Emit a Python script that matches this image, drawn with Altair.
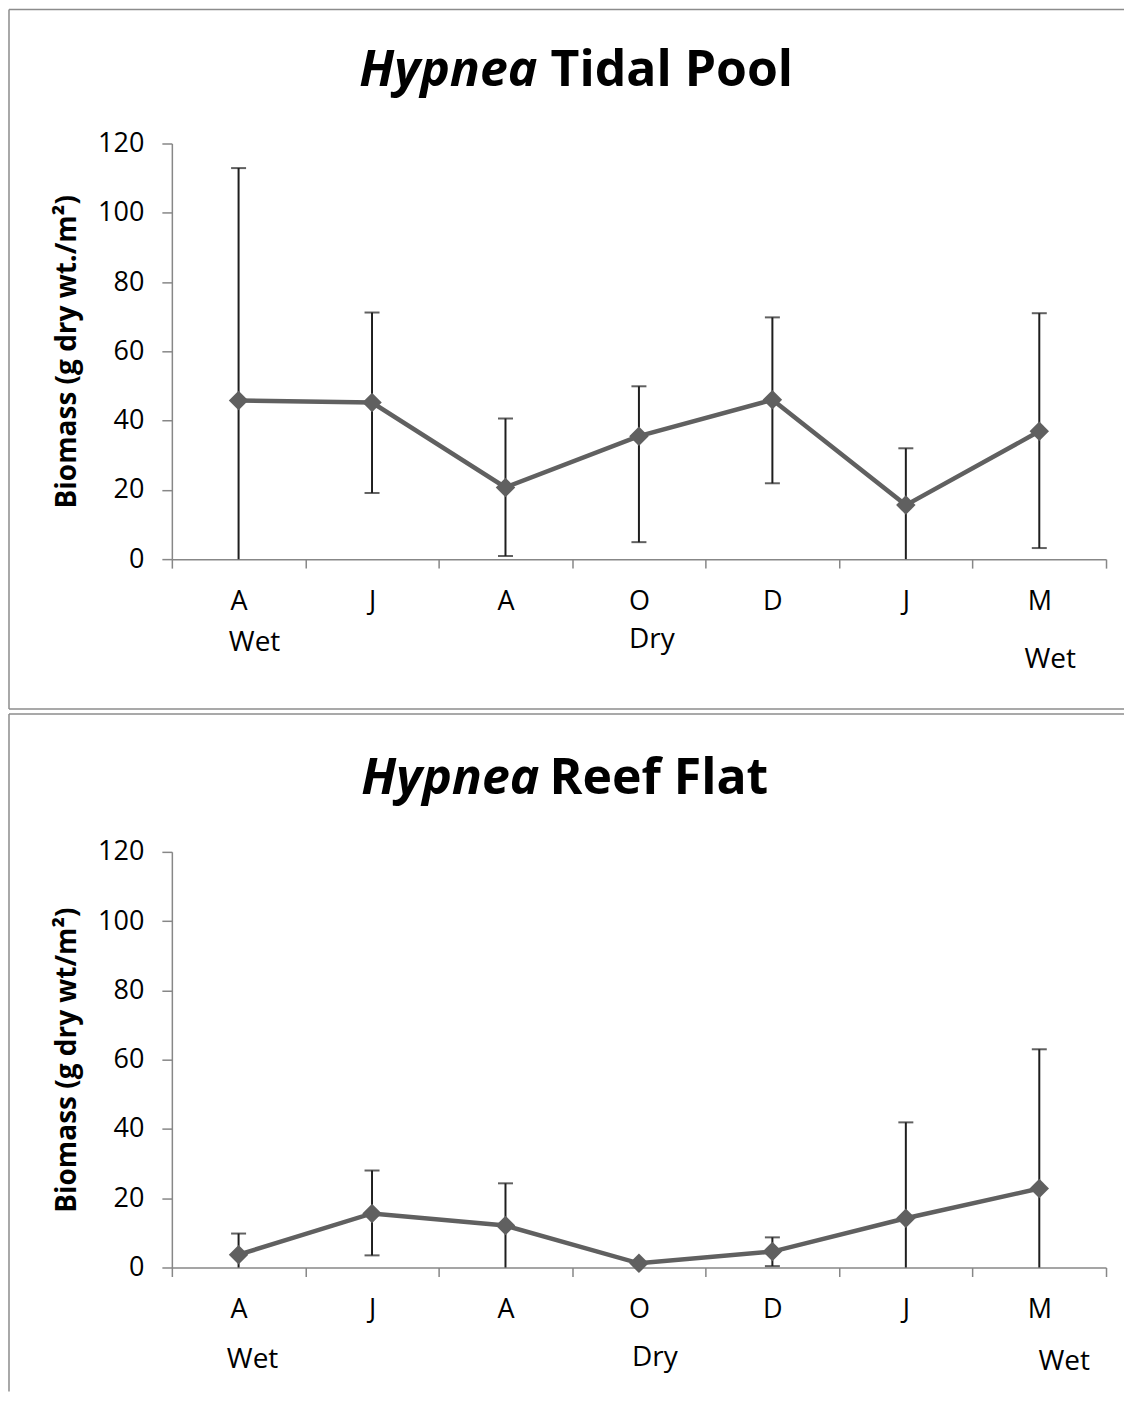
import json
import altair as alt
import pandas as pd

# ---- data ----
months = ["A", "J", "A", "O", "D", "J", "M"]

tidal_mean = [45.8, 45.2, 20.7, 35.5, 46.0, 15.6, 36.9]
tidal_upper = [112.9, 71.2, 40.6, 49.9, 69.8, 32.0, 71.0]
tidal_lower = [0.0, 19.1, 0.9, 4.9, 21.9, 0.0, 3.2]

reef_mean = [3.7, 15.6, 12.1, 1.2, 4.6, 14.2, 22.8]
reef_upper = [9.8, 28.0, 24.3, 1.2, 8.7, 41.9, 63.0]
reef_lower = [0.0, 3.5, 0.0, 1.2, 0.4, 0.0, 0.0]

genus = "Hypnea"
sites = ["Tidal Pool", "Reef Flat"]
y_titles = ["Biomass (g dry wt./m²)", "Biomass (g dry wt/m²)"]
season_labels = ["Wet", "Dry", "Wet"]
season_at = [0, 3, 6]
y_ticks = [0, 20, 40, 60, 80, 100, 120]

FONT = "Open Sans"
LINE = "#606060"
AXIS = "#878787"
W, H = 935, 416
label_expr = json.dumps(months) + "[datum.value]"


def panel(mean, upper, lower, site, ytitle, layout):
    df = pd.DataFrame({"idx": list(range(len(months))), "month": months,
                       "mean": mean, "hi": upper, "lo": lower})
    one = pd.DataFrame({"k": [0]})
    sdf = pd.DataFrame({"k": list(range(len(season_labels))),
                        "label": season_labels, "idx": season_at})

    x = alt.X("idx:O", bandPosition=0.5, title=None,
              scale=alt.Scale(type="band", paddingInner=0, paddingOuter=0),
              axis=alt.Axis(labelExpr=label_expr, tickBand="extent", tickSize=9,
                            tickColor=AXIS, tickWidth=1.5, domainColor=AXIS,
                            domainWidth=1.5, labelFontSize=27, labelColor="black",
                            labelPadding=layout["xlabpad"], labelAngle=0, grid=False,
                            labelFont=FONT))
    yscale = alt.Scale(domain=[0, 120], nice=False)
    y = alt.Y("mean:Q", scale=yscale, title=ytitle,
              axis=alt.Axis(values=y_ticks, tickSize=10, tickColor=AXIS, tickWidth=1.5,
                            domainColor=AXIS, domainWidth=1.5, labelFontSize=27,
                            labelColor="black", labelPadding=18, grid=False,
                            labelFont=FONT, titleFont=FONT, titleFontSize=28,
                            titleFontWeight="bold", titleColor="black",
                            titleX=-104, titleY=H / 2, titleAngle=270,
                            titleAlign="center", titleBaseline="middle"))

    base = alt.Chart(df)
    err = base.mark_rule(color="#1e1e1e", strokeWidth=2).encode(
        x=x, y=alt.Y("lo:Q", scale=yscale), y2="hi:Q")
    cap_hi = base.transform_filter("datum.hi > datum.mean").mark_tick(
        color="#1e1e1e", thickness=2, size=15, orient="horizontal").encode(
        x=x, y=alt.Y("hi:Q", scale=yscale))
    cap_lo = base.transform_filter("datum.lo > 0 && datum.lo < datum.mean").mark_tick(
        color="#1e1e1e", thickness=2, size=15, orient="horizontal").encode(
        x=x, y=alt.Y("lo:Q", scale=yscale))
    line = base.mark_line(color=LINE, strokeWidth=4.5).encode(x=x, y=y)
    pts = base.mark_point(shape="diamond", filled=True, size=380, color=LINE,
                          opacity=1).encode(x=x, y=alt.Y("mean:Q", scale=yscale))

    top, bottom, right, left = layout["top"], layout["bottom"], 953, -163
    frame = [
        alt.Chart(one).mark_rule(color="#8c8c8c", strokeWidth=1.5).encode(
            x=alt.value(left), y=alt.value(top), y2=alt.value(bottom)),
        alt.Chart(one).mark_rule(color="#8c8c8c", strokeWidth=1.5).encode(
            x=alt.value(left), x2=alt.value(right), y=alt.value(top)),
    ]
    if layout["close"]:
        frame.append(alt.Chart(one).mark_rule(color="#8c8c8c", strokeWidth=1.5).encode(
            x=alt.value(left), x2=alt.value(right), y=alt.value(bottom)))

    tx, ty, gap = layout["title_x"], layout["title_y"], layout["gap"]
    t1 = alt.Chart(one).mark_text(text=genus, font=FONT, fontSize=50, fontWeight="bold",
                                  fontStyle="italic", align="right",
                                  baseline="alphabetic", color="black").encode(
        x=alt.value(tx), y=alt.value(ty))
    t2 = alt.Chart(one).mark_text(text=site, font=FONT, fontSize=50, fontWeight="bold",
                                  align="left", baseline="alphabetic",
                                  color="black").encode(
        x=alt.value(tx + gap), y=alt.value(ty))

    seasons = []
    for k, (dx, yy) in enumerate(layout["seasons"]):
        seasons.append(
            alt.Chart(sdf).transform_filter(f"datum.k == {k}").mark_text(
                font=FONT, fontSize=28, dx=dx, baseline="middle", color="black").encode(
                x=alt.X("idx:O", bandPosition=0.5,
                        scale=alt.Scale(type="band", paddingInner=0, paddingOuter=0)),
                y=alt.value(yy), text="label:N"))

    return alt.layer(*frame, err, cap_hi, cap_lo, line, pts, t1, t2, *seasons).properties(
        width=W, height=H, view=alt.ViewBackground(stroke="transparent", strokeOpacity=0))


p1 = panel(tidal_mean, tidal_upper, tidal_lower, sites[0], y_titles[0],
           {"top": -134, "bottom": 566, "close": True, "xlabpad": 20,
            "title_x": 366, "title_y": -58, "gap": 13,
            "seasons": [(16, 500), (13, 497), (11, 517)]})
p2 = panel(reef_mean, reef_upper, reef_lower, sites[1], y_titles[1],
           {"top": -138, "bottom": 540, "close": False, "xlabpad": 20,
            "title_x": 368, "title_y": -58, "gap": 10,
            "seasons": [(14, 509), (16, 507), (25, 511)]})

chart = alt.vconcat(p1, p2, spacing=3).properties(padding=0).configure_view(
    stroke="transparent", strokeOpacity=0).configure(font=FONT)

chart.save("out.html", embed_options={"renderer": "svg", "actions": False})
